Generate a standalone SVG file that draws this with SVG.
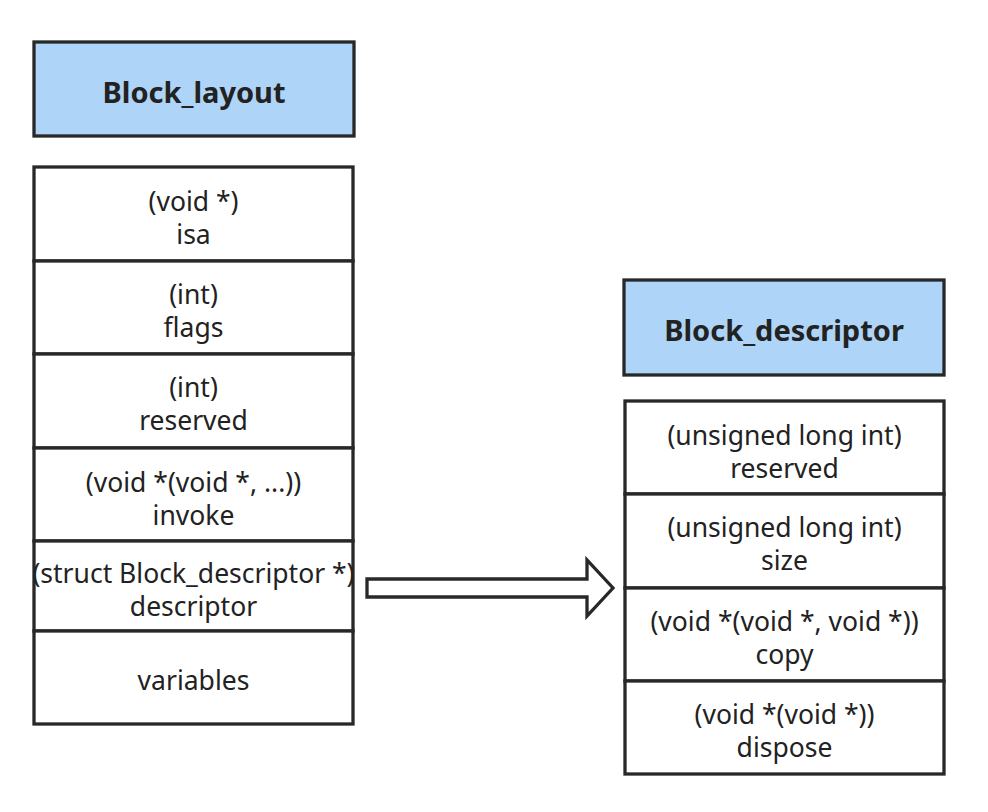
<svg xmlns="http://www.w3.org/2000/svg" width="988" height="812" viewBox="0 0 988 812">
<style>
.hdr{fill:#aed4f7;stroke:#282828;stroke-width:3.3}
.cell{fill:#ffffff;stroke:#282828;stroke-width:3.3}
.t{font-family:"Noto Sans","Open Sans",sans-serif;font-size:26.5px;fill:#222222;text-anchor:middle}
.h{font-family:"Noto Sans","Open Sans",sans-serif;font-size:29px;font-weight:bold;fill:#222222;text-anchor:middle}
</style>
<rect width="988" height="812" fill="#ffffff"/>
<g id="block_layout_header">
<rect class="hdr" x="34" y="42" width="320" height="94"/>
<text class="h" x="194" y="103">Block_layout</text>
</g>
<g id="block_layout">
<g id="isa"><rect class="cell" x="34" y="167" width="319" height="94"/>
<text class="t" x="193.5" y="211">(void *)</text><text class="t" x="193.5" y="244">isa</text></g>
<g id="flags"><rect class="cell" x="34" y="261" width="319" height="93"/>
<text class="t" x="193.5" y="304">(int)</text><text class="t" x="193.5" y="337">flags</text></g>
<g id="reserved"><rect class="cell" x="34" y="354" width="319" height="94"/>
<text class="t" x="193.5" y="397">(int)</text><text class="t" x="193.5" y="430">reserved</text></g>
<g id="invoke"><rect class="cell" x="34" y="448" width="319" height="93"/>
<text class="t" x="193.5" y="492">(void *(void *, ...))</text><text class="t" x="193.5" y="525">invoke</text></g>
<g id="descriptor"><rect class="cell" x="34" y="541" width="319" height="90"/>
<text class="t" x="193.5" y="583">(struct Block_descriptor *)</text><text class="t" x="193.5" y="616">descriptor</text></g>
<g id="variables"><rect class="cell" x="34" y="631" width="319" height="93"/>
<text class="t" x="193.5" y="690">variables</text></g>
</g>
<g id="block_descriptor_header">
<rect class="hdr" x="624" y="280" width="320" height="95"/>
<text class="h" x="784" y="341">Block_descriptor</text>
</g>
<g id="block_descriptor">
<g id="d_reserved"><rect class="cell" x="625" y="401" width="319" height="93"/>
<text class="t" x="784.5" y="445">(unsigned long int)</text><text class="t" x="784.5" y="478">reserved</text></g>
<g id="d_size"><rect class="cell" x="625" y="494" width="319" height="94"/>
<text class="t" x="784.5" y="537">(unsigned long int)</text><text class="t" x="784.5" y="570">size</text></g>
<g id="d_copy"><rect class="cell" x="625" y="588" width="319" height="93"/>
<text class="t" x="784.5" y="631">(void *(void *, void *))</text><text class="t" x="784.5" y="664">copy</text></g>
<g id="d_dispose"><rect class="cell" x="625" y="681" width="319" height="93"/>
<text class="t" x="784.5" y="724">(void *(void *))</text><text class="t" x="784.5" y="757">dispose</text></g>
</g>
<g id="connectors">
<polygon points="367,579 587,579 587,560 613,588 587,616 587,597 367,597" fill="#ffffff" stroke="#282828" stroke-width="3.3" stroke-linejoin="miter"/>
</g>
</svg>
